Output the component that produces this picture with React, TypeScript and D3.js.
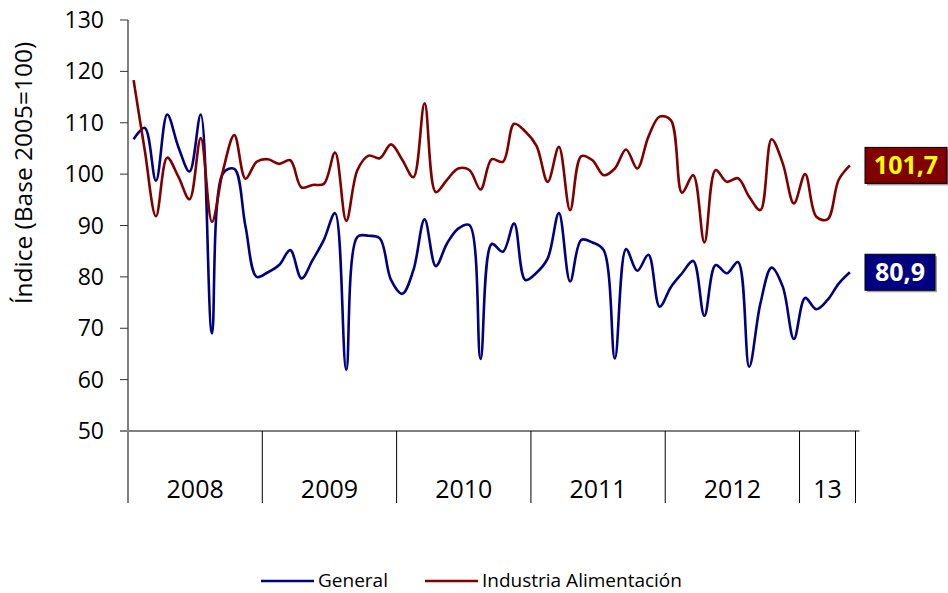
import React, { useEffect, useRef } from 'react'
import * as d3 from 'd3'

const years = ['2008', '2009', '2010', '2011', '2012', '13']
const monthsPerYear = [12, 12, 12, 12, 12, 5]
const yTicks = [50, 60, 70, 80, 90, 100, 110, 120, 130]

const general = [
  106.8, 109.0, 98.7, 111.6, 105.3, 100.5, 111.6, 69.0, 100.2, 101.0, 89.8, 80.0,
  80.9, 82.3, 85.2, 79.7, 83.3, 87.2, 92.4, 61.9, 87.8, 88.0, 87.5, 79.4,
  76.7, 81.3, 91.2, 82.1, 86.5, 89.4, 90.1, 64.0, 86.4, 84.9, 90.4, 79.4,
  80.8, 83.6, 92.4, 79.1, 87.2, 86.7, 85.2, 64.1, 85.4, 81.2, 84.3, 74.2,
  78.0, 80.7, 83.1, 72.4, 82.3, 80.7, 82.9, 62.5, 74.8, 81.8, 78.1, 67.9,
  75.9, 73.7, 75.5, 78.7, 80.9,
]

const industria = [
  118.3, 104.6, 91.8, 103.2, 99.5, 95.1, 107.0, 90.7, 100.8, 107.6, 99.1, 102.4,
  102.9, 102.0, 102.7, 97.4, 97.9, 98.1, 104.2, 90.9, 100.8, 103.6, 103.1, 105.8,
  102.8, 99.4, 113.8, 96.5, 98.9, 101.1, 100.8, 97.0, 102.9, 102.4, 109.8, 108.3,
  105.5, 98.5, 105.3, 93.0, 103.5, 102.7, 99.8, 101.1, 104.8, 101.1, 107.3, 111.2,
  110.5, 96.4, 99.8, 86.7, 100.8, 98.5, 99.2, 95.6, 93.0, 106.8, 102.1, 94.3,
  100.0, 91.7, 91.2, 98.9, 101.7,
]

const seriesNames = ['General', 'Industria Alimentación']
const lastLabels = ['80,9', '101,7']

const FONT = '"Open Sans", "DejaVu Sans", sans-serif'

function Chart() {
  const ref = useRef<SVGSVGElement>(null)

  useEffect(() => {
    const svg = d3.select(ref.current)
    svg.selectAll('*').remove()

    const left = 128
    const right = 855.5
    const top = 20
    const bottom = 431
    const catBottom = 503

    const nMonths = d3.sum(monthsPerYear)
    const x = d3.scaleLinear().domain([0, nMonths]).range([left, right])
    const y = d3.scaleLinear().domain([50, 130]).range([bottom, top])

    // y axis
    const yAxis = svg.append('g')
    yAxis
      .append('line')
      .attr('x1', left)
      .attr('x2', left)
      .attr('y1', top)
      .attr('y2', catBottom)
      .attr('stroke', '#000')
      .attr('stroke-width', 1)
    yAxis
      .selectAll('line.tick')
      .data(yTicks)
      .enter()
      .append('line')
      .attr('class', 'tick')
      .attr('x1', left - 8)
      .attr('x2', left)
      .attr('y1', d => y(d))
      .attr('y2', d => y(d))
      .attr('stroke', '#333')
    yAxis
      .selectAll('text')
      .data(yTicks)
      .enter()
      .append('text')
      .attr('x', 104)
      .attr('y', d => y(d) + 8)
      .attr('text-anchor', 'end')
      .attr('font-family', FONT)
      .attr('font-size', 23)
      .text(d => d)

    svg
      .append('text')
      .attr('transform', 'translate(32, 173) rotate(-90)')
      .attr('text-anchor', 'middle')
      .attr('font-family', FONT)
      .attr('font-size', 24.5)
      .text('Índice (Base 2005=100)')

    // x axis (category years)
    const bounds = [0, ...d3.cumsum(monthsPerYear)]
    svg
      .append('line')
      .attr('x1', left - 8)
      .attr('x2', right + 4)
      .attr('y1', bottom)
      .attr('y2', bottom)
      .attr('stroke', '#808080')
      .attr('stroke-width', 2)
    svg
      .selectAll('line.divider')
      .data(bounds.slice(1))
      .enter()
      .append('line')
      .attr('class', 'divider')
      .attr('x1', d => x(d))
      .attr('x2', d => x(d))
      .attr('y1', bottom)
      .attr('y2', catBottom)
      .attr('stroke', '#000')
      .attr('stroke-width', 1)
    svg
      .selectAll('text.year')
      .data(years)
      .enter()
      .append('text')
      .attr('class', 'year')
      .attr('x', (d, i) => (x(bounds[i]) + x(bounds[i + 1])) / 2)
      .attr('y', 497.5)
      .attr('text-anchor', 'middle')
      .attr('font-family', FONT)
      .attr('font-size', 25)
      .text(d => d)

    // lines
    const line = d3
      .line<number>()
      .x((d, i) => x(i + 0.5))
      .y(d => y(d))
      .curve(d3.curveCatmullRom.alpha(0.5))

    const series = [
      { values: general, color: '#000080', text: '#fff' },
      { values: industria, color: '#800000', text: '#ffff00' },
    ]

    series.forEach((s, k) => {
      svg
        .append('path')
        .attr('d', line(s.values))
        .attr('fill', 'none')
        .attr('stroke', s.color)
        .attr('stroke-width', 2.6)
        .attr('stroke-linejoin', 'round')

      const last = s.values[s.values.length - 1]
      const cy = y(last)
      const w = k === 0 ? 70 : 82
      const g = svg.append('g')
      g.append('rect')
        .attr('x', 867)
        .attr('y', cy - 16)
        .attr('width', w)
        .attr('height', 36)
        .attr('fill', '#a0a0a0')
      g.append('rect')
        .attr('x', 865)
        .attr('y', cy - 18)
        .attr('width', w)
        .attr('height', 36)
        .attr('fill', s.color)
        .attr('stroke', '#000')
        .attr('stroke-width', 1)
      g.append('text')
        .attr('x', 865 + w / 2)
        .attr('y', cy + 9)
        .attr('text-anchor', 'middle')
        .attr('font-family', FONT)
        .attr('font-weight', 'bold')
        .attr('font-size', 25)
        .attr('fill', s.text)
        .text(lastLabels[k])
    })

    // legend
    const legendX = [261, 425]
    series.forEach((s, k) => {
      svg
        .append('line')
        .attr('x1', legendX[k])
        .attr('x2', legendX[k] + 53)
        .attr('y1', 581)
        .attr('y2', 581)
        .attr('stroke', s.color)
        .attr('stroke-width', 2.5)
      svg
        .append('text')
        .attr('x', legendX[k] + 57)
        .attr('y', 587)
        .attr('font-family', FONT)
        .attr('font-size', 19)
        .text(seriesNames[k])
    })
  }, [])

  return <svg ref={ref} width={948} height={593} style={{ display: 'block' }} />
}

export default function App() {
  return (
    <div style={{ position: 'absolute', left: 0, top: 0 }}>
      <Chart />
    </div>
  )
}
